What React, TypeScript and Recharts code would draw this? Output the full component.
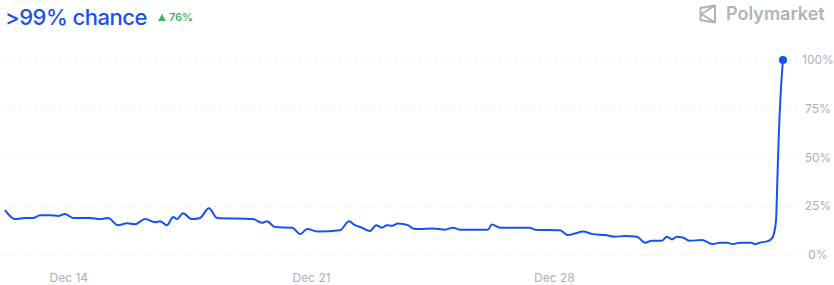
import React from 'react';
import { LineChart, Line, XAxis, YAxis, CartesianGrid } from 'recharts';

// day of month (Dec), values past 31 run into January
const days = [
  12.16, 12.45, 12.74, 12.97, 13.17, 13.46, 13.69, 13.89, 14.12, 14.61, 14.9, 15.13, 15.42, 15.68,
  15.91, 16.2, 16.49, 16.63, 16.83, 17.01, 17.12, 17.29, 17.55, 17.78, 18.04, 18.27, 19.31, 19.57,
  19.71, 19.95, 20.44, 20.67, 20.87, 21.19, 21.82, 22.08, 22.25, 22.45, 22.68, 22.86, 23.03, 23.17,
  23.32, 23.49, 23.78, 23.92, 24.12, 24.5, 24.84, 25.07, 25.28, 26.08, 26.2, 26.43, 27.29, 27.44,
  28.16, 28.39, 28.59, 28.82, 29.11, 29.46, 29.74, 30.03, 30.38, 30.61, 30.81, 31.1, 31.24, 31.39,
  31.53, 31.7, 31.9, 32.25, 32.57, 32.77, 32.97, 33.14, 33.35, 33.69, 33.78, 33.92, 34.15, 34.27,
  34.33, 34.39, 34.43, 34.47, 34.53, 34.59,
];
const chance = [
  23, 18.4, 19, 19, 20.4, 20.4, 20, 21, 19, 19, 18.4, 19, 15.3, 16.3,
  15.8, 18.4, 16.8, 17.3, 15.3, 19.5, 18.4, 21.4, 18.4, 19, 24, 19, 18.4, 16.5,
  17.3, 14.3, 14, 10.7, 13.3, 12, 12.7, 17.3, 15.3, 14, 12.3, 15.3, 14, 15.3,
  15, 16.2, 15.3, 13.6, 13.3, 13.6, 13, 14, 13, 13, 15.6, 14, 14, 13,
  12.7, 10.2, 11, 12, 10.7, 10.2, 9.4, 9.7, 9.4, 6.3, 7.3, 7.3, 9.4, 8,
  9.4, 9, 7.3, 7.7, 5.6, 6.3, 6.3, 5.6, 6.3, 6.3, 5.5, 6.3, 7.1, 8.5,
  11, 18, 40, 62, 85, 100,
];
const xTicks = [14, 21, 28];
const yTicks = [0, 25, 50, 75, 100];

const data = days.map((d, i) => ({ day: d, value: chance[i] }));

const BLUE = '#1652F0';
const FONT = 'Inter, "Open Sans", sans-serif';

const YTick = ({ x, y, payload }: any) => (
  <text x={x + 10} y={y} dy={4} textAnchor="middle" fill="#a9b1bd" fontSize={12} fontFamily={FONT}>
    {payload.value}%
  </text>
);

export default function App() {
  const last = data.length - 1;
  return (
    <div style={{ position: 'fixed', left: 0, top: 0, width: 834, height: 285, background: '#fff', fontFamily: FONT }}>
      <div style={{ position: 'absolute', left: 5, top: 4, display: 'flex', alignItems: 'center' }}>
        <span style={{ color: BLUE, fontSize: 22, fontWeight: 500, letterSpacing: -0.5 }}>&gt;99% chance</span>
        <span style={{ color: '#3db468', fontSize: 11, fontWeight: 600, marginLeft: 11, display: 'flex', alignItems: 'center' }}>
          <svg width={8} height={7} style={{ marginRight: 3 }}>
            <path d="M4 0 L8 7 L0 7 Z" fill="#3db468" />
          </svg>
          76%
        </span>
      </div>
      <div style={{ position: 'absolute', left: 698, top: 3, display: 'flex', alignItems: 'center', color: '#aeb4bc' }}>
        <svg width={20} height={20} viewBox="0 0 20 20" style={{ marginRight: 8 }}>
          <path d="M2.5 4 L17 1.5 L17 18.5 L2.5 16 Z M17 1.5 L3.5 10 L17 18.5" fill="none" stroke="#aeb4bc" strokeWidth={2} strokeLinejoin="round" />
        </svg>
        <span style={{ fontSize: 18, fontWeight: 600 }}>Polymarket</span>
      </div>
      <LineChart width={834} height={285} data={data} margin={{ top: 60, right: 0, bottom: 0, left: 5 }}>
        <CartesianGrid vertical={false} stroke="#d8dce2" strokeDasharray="1 4" />
        <XAxis
          dataKey="day"
          type="number"
          domain={['dataMin', 'dataMax']}
          padding={{ left: 0, right: 17 }}
          ticks={xTicks}
          tickFormatter={(v) => `Dec ${v}`}
          axisLine={false}
          tickLine={false}
          tickMargin={12}
          height={30}
          tick={{ fill: '#a9b1bd', fontSize: 12, fontFamily: FONT }}
        />
        <YAxis
          orientation="right"
          domain={[0, 100]}
          ticks={yTicks}
          axisLine={false}
          tickLine={false}
          width={34}
          tick={<YTick />}
        />
        <Line
          type="monotone"
          dataKey="value"
          stroke={BLUE}
          strokeWidth={2}
          isAnimationActive={false}
          dot={(p: any) =>
            p.index === last ? (
              <circle key="end" cx={p.cx} cy={p.cy} r={4} fill={BLUE} />
            ) : (
              <g key={`d${p.index}`} />
            )
          }
          activeDot={false}
        />
      </LineChart>
    </div>
  );
}
